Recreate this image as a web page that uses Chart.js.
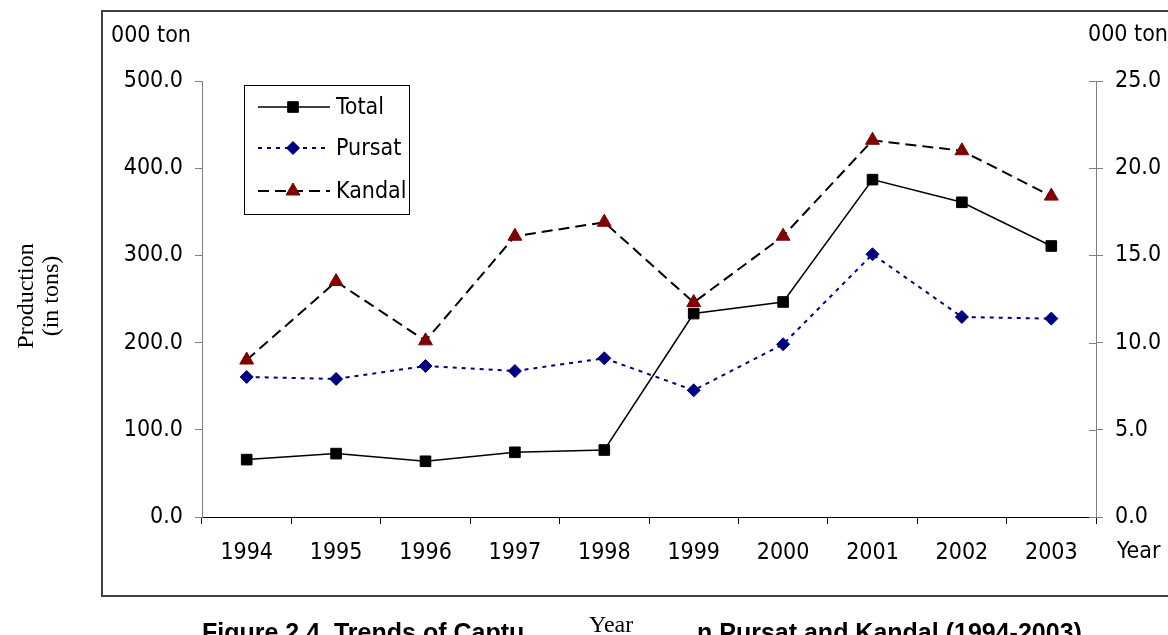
<!DOCTYPE html>
<html>
<head>
<meta charset="utf-8">
<script src="https://cdn.jsdelivr.net/npm/chart.js@4.4.1/dist/chart.umd.min.js"></script>
<style>
  html, body { margin: 0; padding: 0; background: #fff; }
  canvas { display: block; }
</style>
</head>
<body>
<canvas id="myChart" width="1168" height="635"></canvas>
<script>
// data (Total, Pursat on left axis; Kandal on right axis)
const years = ['1994', '1995', '1996', '1997', '1998', '1999', '2000', '2001', '2002', '2003'];
const total = [65.8, 72.7, 63.9, 74.2, 76.8, 233.3, 246.6, 386.9, 360.9, 310.8];
const pursat = [160.6, 158.3, 173.2, 167.4, 182.0, 145.3, 198.1, 301.3, 229.4, 227.5];
const kandal = [9.0, 13.5, 10.1, 16.1, 16.9, 12.3, 16.1, 21.6, 21.0, 18.4];
const leftRange = [0, 500, 100];
const rightRange = [0, 25, 5];

const sansFont = "'DejaVu Sans Condensed', 'Noto Sans', sans-serif";
const serifFont = "'Liberation Serif', 'DejaVu Serif', serif";

const decor = {
  id: 'decor',
  beforeDraw(chart) {
    const ctx = chart.ctx;
    ctx.save();
    ctx.fillStyle = '#fff';
    ctx.fillRect(0, 0, chart.width, chart.height);
    ctx.strokeStyle = '#404040';
    ctx.lineWidth = 2;
    ctx.strokeRect(102, 11, 1200, 585);
    ctx.restore();
  },
  afterDraw(chart) {
    const ctx = chart.ctx;
    ctx.save();
    ctx.fillStyle = '#000';
    ctx.textBaseline = 'alphabetic';
    ctx.textAlign = 'left';
    ctx.font = '23px ' + sansFont;
    ctx.fillText('000 ton', 111, 42);
    ctx.fillText('000 ton', 1088, 41);
    ctx.fillText('Year', 1117, 558);

    // inner half of right axis ticks
    const y1 = chart.scales.y1;
    ctx.strokeStyle = '#808080';
    ctx.lineWidth = 1;
    y1.ticks.forEach(t => {
      const py = Math.round(y1.getPixelForValue(t.value)) + 0.5;
      ctx.beginPath();
      ctx.moveTo(y1.left - 7, py);
      ctx.lineTo(y1.left, py);
      ctx.stroke();
    });

    // y title
    ctx.save();
    ctx.translate(0, 296);
    ctx.rotate(-Math.PI / 2);
    ctx.textAlign = 'center';
    ctx.font = '24px ' + serifFont;
    ctx.fillText('Production', 0, 33);
    ctx.fillText('(in tons)', 0, 58);
    ctx.restore();

    // caption and the overlapping axis title
    ctx.font = 'bold 25px ' + "'Liberation Sans', Arial, sans-serif";
    ctx.fillText('Figure 2.4. Trends of Captu', 202, 641);
    ctx.fillText('n Pursat and Kandal (1994-2003)', 697, 641);
    ctx.font = '24px ' + serifFont;
    ctx.fillText('Year', 589, 632);

    // legend box
    ctx.fillStyle = '#fff';
    ctx.fillRect(244, 85, 165, 129);
    ctx.strokeStyle = '#000';
    ctx.lineWidth = 1;
    ctx.strokeRect(244.5, 85.5, 165, 129);
    const rows = [107, 148, 191];
    chart.data.datasets.forEach((ds, i) => {
      const y = rows[i];
      ctx.save();
      ctx.strokeStyle = ds.borderColor;
      ctx.lineWidth = ds.borderWidth;
      ctx.setLineDash(ds.borderDash || []);
      ctx.beginPath();
      ctx.moveTo(258, y);
      ctx.lineTo(330, y);
      ctx.stroke();
      ctx.setLineDash([]);
      ctx.fillStyle = ds.pointBackgroundColor;
      ctx.strokeStyle = ds.pointBorderColor;
      ctx.lineWidth = 1;
      Chart.helpers.drawPoint(ctx, {pointStyle: ds.pointStyle, radius: ds.pointRadius, rotation: 0, borderWidth: 1}, 293, y);
      ctx.restore();
      ctx.fillStyle = '#000';
      ctx.font = '23px ' + sansFont;
      ctx.textBaseline = 'middle';
      ctx.fillText(ds.label, 336, y + 1);
    });
    ctx.restore();
  }
};

const data = {
  labels: years,
  datasets: [
    {
      label: 'Total',
      data: total,
      yAxisID: 'y',
      borderColor: '#000',
      borderWidth: 1.5,
      pointStyle: 'rect',
      pointRadius: 7.5,
      pointBackgroundColor: '#000',
      pointBorderColor: '#000',
      pointBorderWidth: 1
    },
    {
      label: 'Pursat',
      data: pursat,
      yAxisID: 'y',
      borderColor: '#000080',
      borderWidth: 2,
      borderDash: [4, 5],
      pointStyle: 'rectRot',
      pointRadius: 6.5,
      pointBackgroundColor: '#000080',
      pointBorderColor: '#000080',
      pointBorderWidth: 1
    },
    {
      label: 'Kandal',
      data: kandal,
      yAxisID: 'y1',
      borderColor: '#000',
      borderWidth: 2,
      borderDash: [11, 6],
      pointStyle: 'triangle',
      pointRadius: 8,
      pointBackgroundColor: '#800000',
      pointBorderColor: '#800000',
      pointBorderWidth: 1
    }
  ]
};

const config = {
  type: 'line',
  data: data,
  options: {
    responsive: false,
    devicePixelRatio: 1,
    animation: false,
    layout: { padding: { top: 81, left: 0, right: 0, bottom: 0 } },
    elements: { line: { tension: 0 } },
    plugins: { legend: { display: false }, tooltip: { enabled: false } },
    scales: {
      x: {
        offset: true,
        afterFit: s => { s.height = 118; },
        grid: { offset: true, drawOnChartArea: false, tickLength: 7, color: '#000', tickColor: '#000' },
        border: { color: '#000', width: 1 },
        ticks: { color: '#000', font: { family: sansFont, size: 23 }, padding: 15, maxRotation: 0 }
      },
      y: {
        position: 'left',
        min: leftRange[0], max: leftRange[1],
        afterFit: s => { s.width = 202; },
        grid: { drawOnChartArea: false, tickLength: 7, color: '#808080' },
        border: { color: '#808080', width: 1 },
        ticks: { stepSize: leftRange[2], color: '#000', padding: 12,
                 font: { family: sansFont, size: 23 }, callback: v => v.toFixed(1) }
      },
      y1: {
        position: 'right',
        min: rightRange[0], max: rightRange[1],
        afterFit: s => { s.width = 72; },
        grid: { drawOnChartArea: false, tickLength: 7, color: '#808080' },
        border: { color: '#808080', width: 1 },
        ticks: { stepSize: rightRange[2], color: '#000', padding: 12,
                 font: { family: sansFont, size: 23 }, callback: v => v.toFixed(1) }
      }
    }
  },
  plugins: [decor]
};

const myChart = new Chart(document.getElementById('myChart'), config);
</script>
</body>
</html>
